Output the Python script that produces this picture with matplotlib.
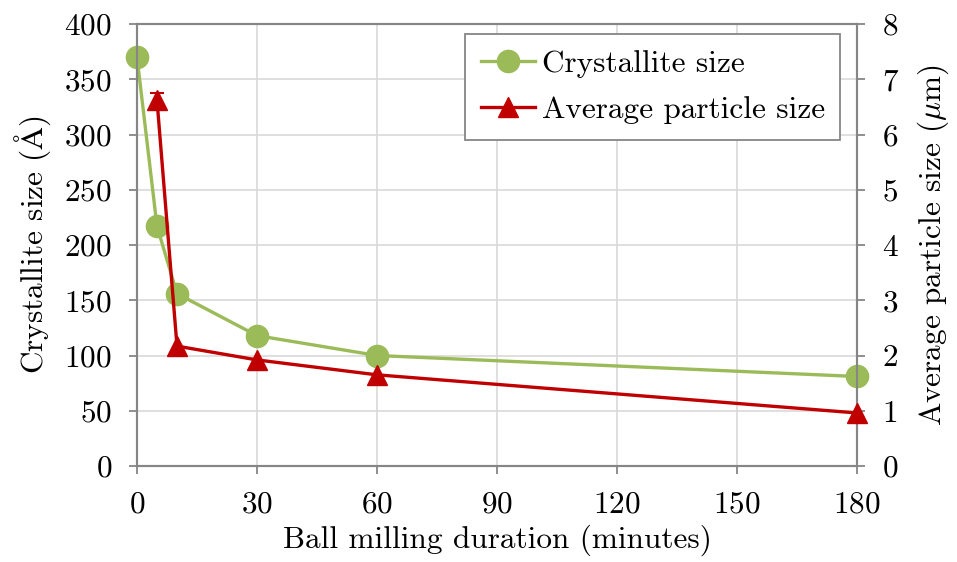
import matplotlib
matplotlib.use("Agg")
import matplotlib.pyplot as plt
from matplotlib.lines import Line2D

# --- data ---
minutes_crys = [0, 5, 10, 30, 60, 180]
crystallite_size = [370, 217, 156, 118, 100, 81]

minutes_part = [5, 10, 30, 60, 180]
particle_size = [6.62, 2.17, 1.92, 1.65, 0.96]
particle_err = [0.13, 0, 0, 0, 0]

x_ticks = [0, 30, 60, 90, 120, 150, 180]

GREEN = "#9BBB59"
RED = "#C00000"
AXIS_GRAY = "#868686"
FS = 22.5

plt.rcParams["font.family"] = ["cmr10", "DejaVu Serif"]
plt.rcParams["mathtext.fontset"] = "cm"
plt.rcParams["axes.formatter.use_mathtext"] = True

fig = plt.figure(figsize=(9.57, 5.62), dpi=100)
ax = fig.add_axes([137 / 957, 1 - 466 / 562, 720 / 957, 442 / 562])
ax2 = ax.twinx()

ax.plot(minutes_crys, crystallite_size, color=GREEN, lw=2.4, marker="o",
        markersize=16, clip_on=False, zorder=3)

ax2.plot(minutes_part, particle_size, color=RED, lw=2.4, marker="^",
         markersize=14, clip_on=False, zorder=3)
# error bar only where one is shown (first point)
err_x = [x for x, e in zip(minutes_part, particle_err) if e > 0]
err_y = [y for y, e in zip(particle_size, particle_err) if e > 0]
err_v = [e for e in particle_err if e > 0]
ax2.errorbar(err_x, err_y, yerr=err_v, fmt="none", ecolor=RED, capsize=5,
             elinewidth=1.5, capthick=1.5, zorder=2)

ax.set_xlim(0, 180)
ax.set_ylim(0, 400)
ax2.set_ylim(0, 8)
ax.set_xticks(x_ticks)
ax.set_yticks(range(0, 401, 50))
ax2.set_yticks(range(0, 9))

ax.grid(True, color="#d9d9d9", lw=1.2)
ax.set_axisbelow(True)

for a in (ax, ax2):
    for side in ("left", "right", "bottom", "top"):
        a.spines[side].set_color(AXIS_GRAY)
        a.spines[side].set_linewidth(1.5)
    a.tick_params(colors=AXIS_GRAY, labelcolor="black", labelsize=FS,
                  width=1.3, length=6, direction="out", pad=12)

ax.set_xlabel("Ball milling duration (minutes)", fontsize=FS, labelpad=4)
ax.set_ylabel(r"Crystallite size ($\mathrm{\AA}$)", fontsize=FS, labelpad=8)
ax2.set_ylabel(r"Average particle size ($\mu$m)", fontsize=FS, labelpad=12)

handles = [
    Line2D([], [], color=GREEN, lw=2.4, marker="o", markersize=16),
    Line2D([], [], color=RED, lw=2.4, marker="^", markersize=14),
]
labels = ["Crystallite size", "Average particle size"]
leg = ax2.legend(handles, labels, loc="upper right", fontsize=FS,
                 frameon=True, fancybox=False, framealpha=1,
                 edgecolor=AXIS_GRAY, bbox_to_anchor=(0.977, 0.977),
                 borderaxespad=0, handlelength=1.75, handletextpad=0.2,
                 borderpad=0.5, labelspacing=0.6)
leg.get_frame().set_linewidth(1.3)

fig.savefig("out.png", dpi=100)
